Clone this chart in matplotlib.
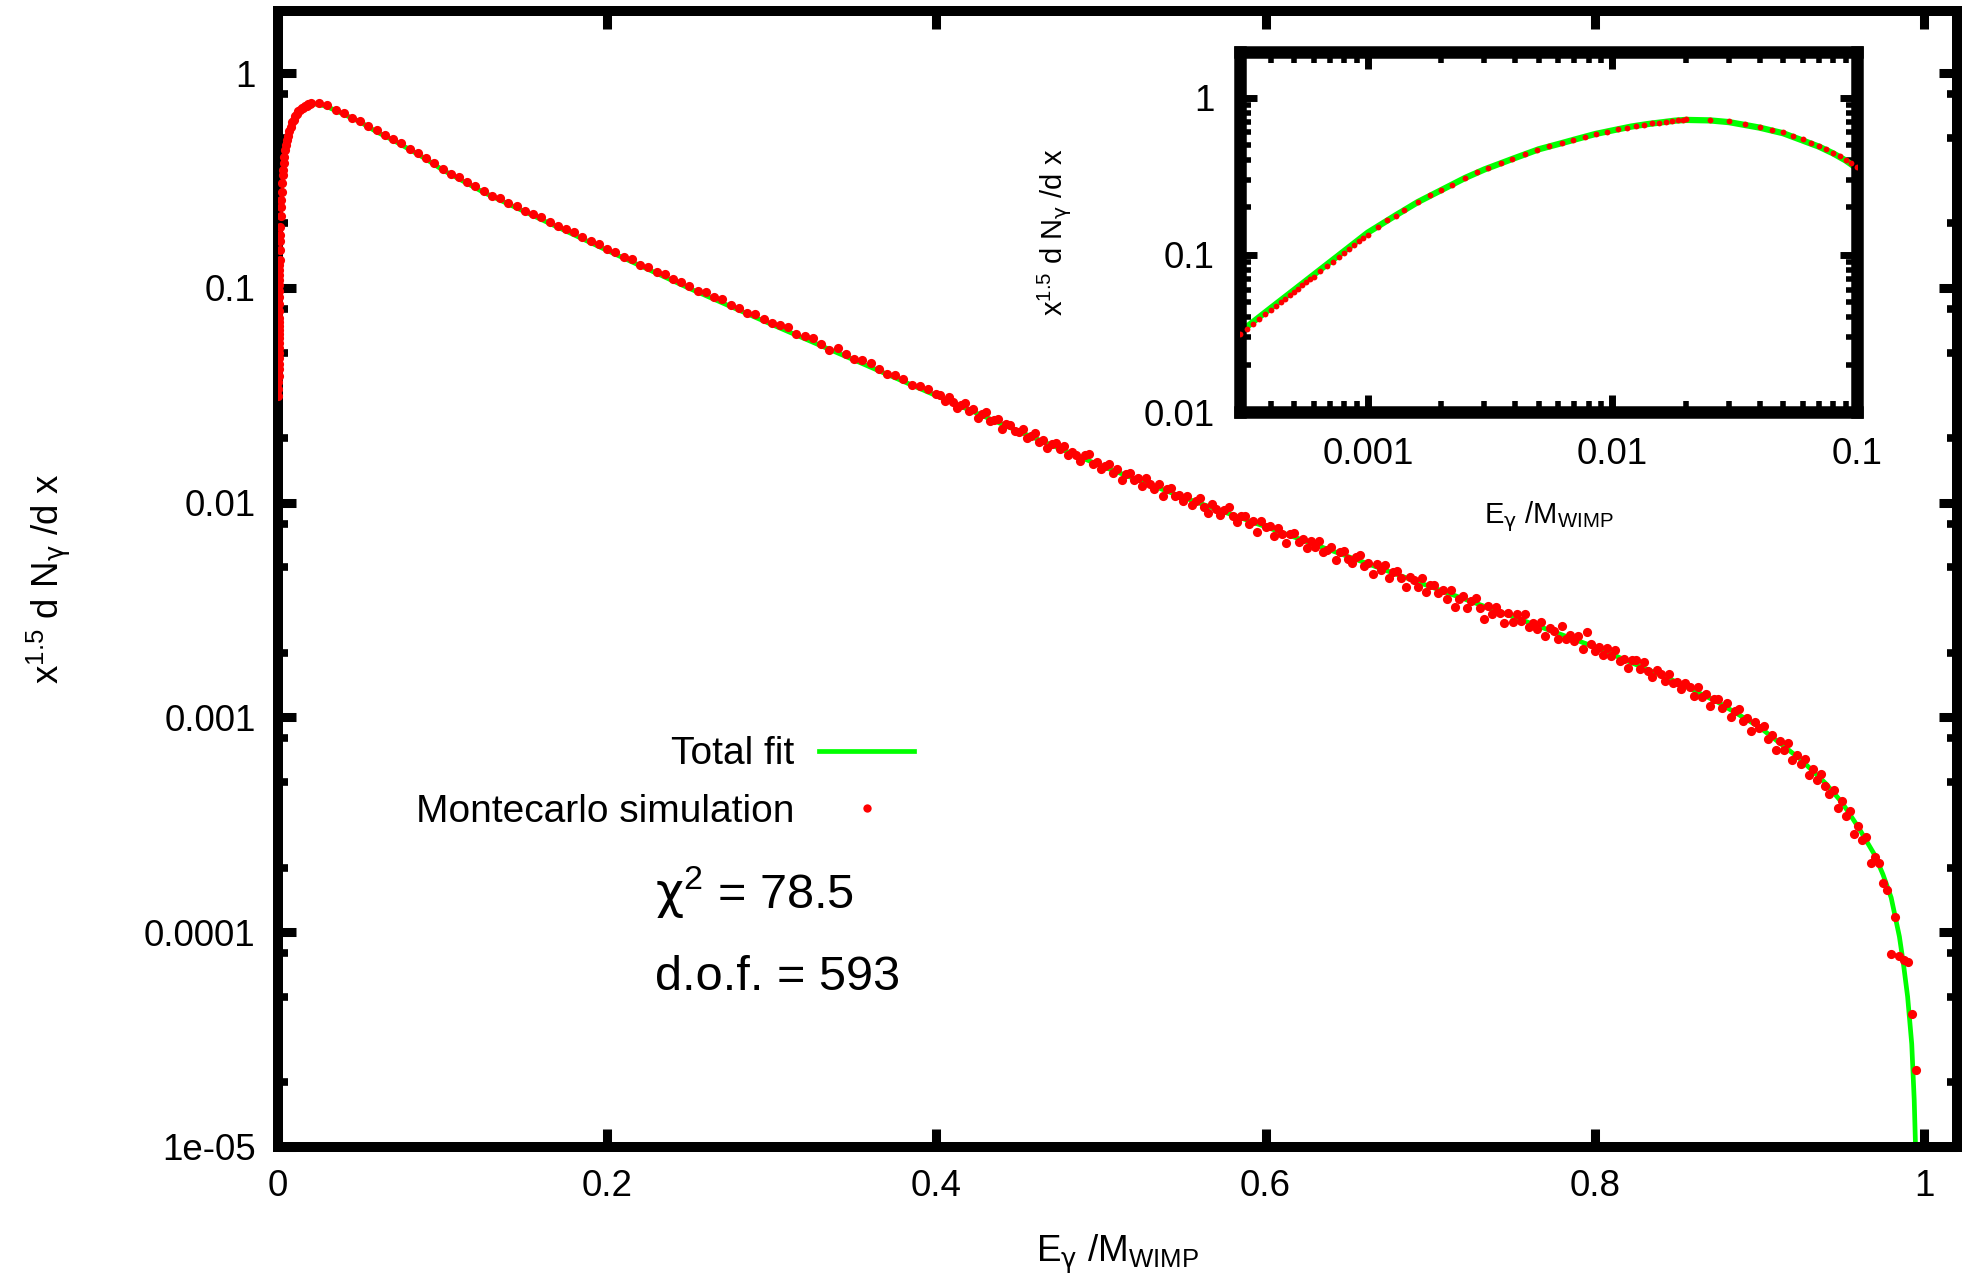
import matplotlib
matplotlib.use('Agg')
import matplotlib.pyplot as plt
from matplotlib.ticker import LogLocator, NullFormatter, NullLocator
from matplotlib.lines import Line2D

plt.rcParams['font.family'] = ['Liberation Sans', 'DejaVu Sans']
plt.rcParams['mathtext.fontset'] = 'custom'
plt.rcParams['mathtext.rm'] = 'Liberation Sans'
plt.rcParams['mathtext.it'] = 'Liberation Sans:italic'
plt.rcParams['mathtext.bf'] = 'Liberation Sans:bold'
plt.rcParams['mathtext.sf'] = 'DejaVu Sans'

# total fit curve
fit_x = [0.0003, 0.0004, 0.0005, 0.0006, 0.0008, 0.001, 0.0013, 0.0016, 0.002, 0.0025,
         0.003, 0.004, 0.005, 0.006, 0.007, 0.0085, 0.01, 0.012, 0.014, 0.016,
         0.018, 0.02, 0.025, 0.03, 0.04, 0.05, 0.06, 0.07, 0.08, 0.09,
         0.10, 0.125, 0.15, 0.175, 0.20, 0.25, 0.30, 0.35, 0.40, 0.45,
         0.50, 0.55, 0.60, 0.65, 0.70, 0.75, 0.80, 0.85, 0.875, 0.90,
         0.925, 0.94, 0.95, 0.96, 0.97, 0.975, 0.98, 0.985, 0.9875, 0.99,
         0.9925, 0.994, 0.995]
fit_y = [0.0322, 0.0457, 0.0598, 0.0746, 0.1056, 0.1384, 0.1782, 0.2163, 0.2582, 0.3083,
         0.3491, 0.4130, 0.4688, 0.5058, 0.5402, 0.5861, 0.6180, 0.6546, 0.6790, 0.6966,
         0.7129, 0.7211, 0.7161, 0.6982, 0.6442, 0.5929, 0.5333, 0.4875, 0.4416, 0.3981,
         0.3548, 0.2786, 0.2265, 0.1841, 0.1496, 0.0995, 0.0676, 0.0462, 0.0315, 0.0215,
         0.01486, 0.01059, 0.00773, 0.00562, 0.00407, 0.00295, 0.00213, 0.00146, 0.001175, 0.000902,
         0.000638, 0.000495, 0.000403, 0.000309, 0.000229, 0.000186, 0.000145, 9.55e-5, 7.08e-5, 5.01e-5,
         3.02e-5, 1.66e-5, 8.9e-6]

# Montecarlo simulation points
mc_x_low = [0.0003, 0.00032, 0.00034, 0.00036, 0.00038, 0.0004, 0.00042, 0.00044, 0.00046, 0.00048,
            0.0005, 0.00052, 0.00054, 0.00056, 0.00058, 0.0006, 0.00064, 0.00068, 0.00072, 0.00076,
            0.0008, 0.00084, 0.00088, 0.00092, 0.00096, 0.001,
            0.0011, 0.0012, 0.0013, 0.0014, 0.0016, 0.0018, 0.002, 0.0022, 0.0025, 0.0028,
            0.0031, 0.0035, 0.0039, 0.0044, 0.0049, 0.0055, 0.0062, 0.0069, 0.0077, 0.0086,
            0.0095, 0.0105, 0.0115, 0.0125, 0.0135, 0.0145, 0.0155, 0.0165, 0.0175, 0.0185, 0.0195]
mc_y_low = [0.0313, 0.0339, 0.0365, 0.0391, 0.0418, 0.0445, 0.0471, 0.0499, 0.0526, 0.0553,
            0.0582, 0.0610, 0.0638, 0.0667, 0.0697, 0.0726, 0.0783, 0.0843, 0.0904, 0.0966,
            0.1028, 0.1089, 0.1153, 0.1216, 0.1282, 0.1346,
            0.1510, 0.1656, 0.1774, 0.1923, 0.2153, 0.2388, 0.2570, 0.2799, 0.3076, 0.3373,
            0.3540, 0.3837, 0.4064, 0.4385, 0.4624, 0.4887, 0.5117, 0.5383, 0.5610, 0.5902,
            0.6067, 0.6295, 0.6442, 0.6637, 0.6730, 0.6855, 0.6902, 0.7031, 0.7063, 0.7178, 0.7194]

mc_x_mid = [0.020, 0.025, 0.030, 0.035, 0.040, 0.045, 0.050, 0.055, 0.060, 0.065,
            0.070, 0.075, 0.080, 0.085, 0.090, 0.095, 0.100, 0.105, 0.110, 0.115,
            0.120, 0.125, 0.130, 0.135, 0.140, 0.145, 0.150, 0.155, 0.160, 0.165,
            0.170, 0.175, 0.180, 0.185, 0.190, 0.195, 0.200, 0.205, 0.210, 0.215,
            0.220, 0.225, 0.230, 0.235, 0.240, 0.245, 0.250, 0.255, 0.260, 0.265,
            0.270, 0.275, 0.280, 0.285, 0.290, 0.295, 0.300, 0.305, 0.310, 0.315,
            0.320, 0.325, 0.330, 0.335, 0.340, 0.345, 0.350, 0.355, 0.360, 0.365,
            0.370, 0.375, 0.380, 0.385, 0.390, 0.395, 0.400]
mc_y_mid = [0.730, 0.723, 0.708, 0.676, 0.652, 0.621, 0.601, 0.568, 0.542, 0.514,
            0.494, 0.473, 0.446, 0.427, 0.403, 0.384, 0.360, 0.341, 0.328, 0.310,
            0.299, 0.282, 0.269, 0.262, 0.250, 0.242, 0.229, 0.221, 0.214, 0.203,
            0.194, 0.188, 0.182, 0.172, 0.166, 0.161, 0.152, 0.147, 0.140, 0.136,
            0.128, 0.125, 0.119, 0.116, 0.110, 0.107, 0.102, 0.0966, 0.0953, 0.0904,
            0.0887, 0.0830, 0.0809, 0.0764, 0.0757, 0.0719, 0.0687, 0.0673, 0.0656, 0.0611,
            0.0596, 0.0582, 0.0548, 0.0514, 0.0525, 0.0494, 0.0469, 0.0460, 0.0447, 0.0420,
            0.0399, 0.0394, 0.0375, 0.0354, 0.0350, 0.0340, 0.0320]

mc_x_high = [0.4025, 0.405, 0.4075, 0.41, 0.4125, 0.415, 0.4175, 0.42, 0.4225, 0.425,
             0.4275, 0.43, 0.4325, 0.435, 0.4375, 0.44, 0.4425, 0.445, 0.4475, 0.45,
             0.4525, 0.455, 0.4575, 0.46, 0.4625, 0.465, 0.4675, 0.47, 0.4725, 0.475,
             0.4775, 0.48, 0.4825, 0.485, 0.4875, 0.49, 0.4925, 0.495, 0.4975, 0.50,
             0.5025, 0.505, 0.5075, 0.51, 0.5125, 0.515, 0.5175, 0.52, 0.5225, 0.525,
             0.5275, 0.53, 0.5325, 0.535, 0.5375, 0.54, 0.5425, 0.545, 0.5475, 0.55,
             0.5525, 0.555, 0.5575, 0.56, 0.5625, 0.565, 0.5675, 0.57, 0.5725, 0.575,
             0.5775, 0.58, 0.5825, 0.585, 0.5875, 0.59, 0.5925, 0.595, 0.5975, 0.60,
             0.6025, 0.605, 0.6075, 0.61, 0.6125, 0.615, 0.6175, 0.62, 0.6225, 0.625,
             0.6275, 0.63, 0.6325, 0.635, 0.6375, 0.64, 0.6425, 0.645, 0.6475, 0.65,
             0.6525, 0.655, 0.6575, 0.66, 0.6625, 0.665, 0.6675, 0.67, 0.6725, 0.675,
             0.6775, 0.68, 0.6825, 0.685, 0.6875, 0.69, 0.6925, 0.695, 0.6975, 0.70,
             0.7025, 0.705, 0.7075, 0.71, 0.7125, 0.715, 0.7175, 0.72, 0.7225, 0.725,
             0.7275, 0.73, 0.7325, 0.735, 0.7375, 0.74, 0.7425, 0.745, 0.7475, 0.75,
             0.7525, 0.755, 0.7575, 0.76, 0.7625, 0.765, 0.7675, 0.77, 0.7725, 0.775,
             0.7775, 0.78, 0.7825, 0.785, 0.7875, 0.79, 0.7925, 0.795, 0.7975, 0.80,
             0.8025, 0.805, 0.8075, 0.81, 0.8125, 0.815, 0.8175, 0.82, 0.8225, 0.825,
             0.8275, 0.83, 0.8325, 0.835, 0.8375, 0.84, 0.8425, 0.845, 0.8475, 0.85,
             0.8525, 0.855, 0.8575, 0.86, 0.8625, 0.865, 0.8675, 0.87, 0.8725, 0.875,
             0.8775, 0.88, 0.8825, 0.885, 0.8875, 0.89, 0.8925, 0.895, 0.8975, 0.90,
             0.9025, 0.905, 0.9075, 0.91, 0.9125, 0.915, 0.9175, 0.92, 0.9225, 0.925,
             0.9275, 0.93, 0.9325, 0.935, 0.9375, 0.94,
             0.9425, 0.945, 0.9475, 0.95,
             0.9525, 0.955, 0.9575, 0.96,
             0.9625, 0.965, 0.9675, 0.97,
             0.9725, 0.975, 0.9775, 0.98, 0.9825, 0.985, 0.9875, 0.99, 0.9925, 0.995]
mc_y_high = [0.0318, 0.0297, 0.0311, 0.0295, 0.0276, 0.0286, 0.0292, 0.0268, 0.0274, 0.0249,
             0.0259, 0.0264, 0.0240, 0.0243, 0.0246, 0.0221, 0.0232, 0.0230, 0.0216, 0.0213,
             0.0220, 0.0201, 0.0205, 0.0212, 0.0192, 0.0197, 0.0179, 0.0188, 0.0189, 0.0177,
             0.0184, 0.0167, 0.0173, 0.0167, 0.0156, 0.0166, 0.0168, 0.0152, 0.0155, 0.0143,
             0.0149, 0.0151, 0.0138, 0.0144, 0.0128, 0.0136, 0.0138, 0.0128, 0.0131, 0.0120,
             0.0131, 0.0122, 0.0116, 0.0122, 0.0108, 0.0116, 0.0117, 0.0108, 0.0109, 0.0102,
             0.01074, 0.00975, 0.01023, 0.01052, 0.00957, 0.00893, 0.00982, 0.00938, 0.00881, 0.00927,
             0.00951, 0.00863, 0.00815, 0.00867, 0.00869, 0.00796, 0.00820, 0.00731, 0.00822, 0.00767,
             0.00778, 0.00701, 0.00764, 0.00714, 0.00647, 0.00716, 0.00726, 0.00658, 0.00675, 0.00614,
             0.00667, 0.00625, 0.00665, 0.00590, 0.00603, 0.00619, 0.00543, 0.00590, 0.00597, 0.00547,
             0.00522, 0.00556, 0.00574, 0.00508, 0.00524, 0.00466, 0.00518, 0.00485, 0.00512, 0.00448,
             0.00478, 0.00482, 0.00444, 0.00405, 0.00453, 0.00437, 0.00407, 0.00447, 0.00383, 0.00415,
             0.00415, 0.00378, 0.00393, 0.00356, 0.00394, 0.00328, 0.00356, 0.00368, 0.00323, 0.00349,
             0.00361, 0.00324, 0.00289, 0.00331, 0.00304, 0.00327, 0.00305, 0.00275, 0.00307, 0.00278,
             0.00303, 0.00280, 0.00303, 0.00264, 0.00275, 0.00259, 0.00279, 0.00239, 0.00262, 0.00252,
             0.00231, 0.00266, 0.00233, 0.00243, 0.00228, 0.00239, 0.00208, 0.00249, 0.00220, 0.00205,
             0.00214, 0.00195, 0.00210, 0.00194, 0.00206, 0.00184, 0.00188, 0.00170, 0.00185, 0.00185,
             0.00169, 0.00182, 0.00165, 0.00155, 0.00166, 0.00160, 0.00148, 0.00160, 0.00145, 0.00147,
             0.00136, 0.00145, 0.00138, 0.00126, 0.00138, 0.00125, 0.00129, 0.00113, 0.00122, 0.00122,
             0.00111, 0.00117, 0.00101, 0.00107, 0.00109, 0.000962, 0.000998, 0.000867, 0.000957, 0.000891,
             0.000916, 0.000794, 0.000828, 0.000708, 0.000780, 0.000708, 0.000759, 0.000635, 0.000668, 0.000610,
             0.000638, 0.000537, 0.000575, 0.000513, 0.000547, 0.000482,
             0.000439, 0.000459, 0.000378, 0.000410,
             0.000348, 0.000365, 0.000288, 0.000313,
             0.000270, 0.000279, 0.000210, 0.000224,
             0.000209, 0.000170, 0.000158, 7.94e-5, 0.0001175, 7.76e-5, 7.41e-5, 7.24e-5, 4.17e-5, 2.29e-5]

mc_x = mc_x_low + mc_x_mid + mc_x_high
mc_y = mc_y_low + mc_y_mid + mc_y_high

main_xticks = [0, 0.2, 0.4, 0.6, 0.8, 1]
main_xlabels = ['0', '0.2', '0.4', '0.6', '0.8', '1']
main_yticks = [1e-5, 1e-4, 1e-3, 1e-2, 1e-1, 1]
main_ylabels = ['1e-05', '0.0001', '0.001', '0.01', '0.1', '1']
inset_xticks = [0.001, 0.01, 0.1]
inset_xlabels = ['0.001', '0.01', '0.1']
inset_yticks = [0.01, 0.1, 1]
inset_ylabels = ['0.01', '0.1', '1']

green = '#00ff00'
red = '#ff0000'

xlab = r'E$_{\mathsf{\gamma}}$ /M$_{\mathrm{WIMP}}$'
ylab = r'x$^{\mathrm{1.5}}$ d N$_{\mathsf{\gamma}}$ /d x'

fig = plt.figure(figsize=(19.71, 12.74), dpi=100)

# main panel
ax = fig.add_axes([0.1410, 0.0997, 0.8519, 0.8917])
ax.plot(fit_x, fit_y, color=green, lw=3.4, zorder=2)
ax.plot(mc_x, mc_y, ls='none', marker='o', ms=6.6, mew=0, color=red, zorder=3)
ax.set_yscale('log')
ax.set_xlim(0, 1.02)
ax.set_ylim(1e-5, 1.95)
ax.set_xticks(main_xticks, main_xlabels)
ax.set_yticks(main_yticks, main_ylabels)
ax.xaxis.set_minor_locator(NullLocator())
ax.yaxis.set_minor_locator(LogLocator(base=10, subs=(2, 5, 8), numticks=30))
ax.yaxis.set_minor_formatter(NullFormatter())
ax.tick_params(which='both', direction='in', top=True, right=True)
ax.tick_params(which='major', length=13, width=6.5, pad=16, labelsize=26.5)
ax.tick_params(which='minor', length=7, width=5.5)
for sp in ax.spines.values():
    sp.set_linewidth(7.2)
ax.set_xlabel(xlab, fontsize=26.5)
ax.set_ylabel(ylab, fontsize=26.5)
ax.xaxis.set_label_coords(0.5, -0.0755)
ax.yaxis.set_label_coords(-0.122, 0.5)

handles = [Line2D([], [], color=green, lw=3.4),
           Line2D([], [], ls='none', marker='o', ms=6.0, mew=0, color=red)]
ax.legend(handles, ['Total fit', 'Montecarlo simulation'], loc='center right',
          bbox_to_anchor=(0.3788, 0.3204), frameon=False, markerfirst=False,
          fontsize=28, handlelength=2.44, handletextpad=0.64, labelspacing=0.55,
          borderpad=0, borderaxespad=0, numpoints=1)

ax.text(0.2245, 0.2245, r'$\mathsf{\chi}^{2}$ = 78.5', transform=ax.transAxes,
        fontsize=35, ha='left', va='center')
ax.text(0.2245, 0.149, 'd.o.f. = 593', transform=ax.transAxes,
        fontsize=35, ha='left', va='center')

# inset panel
ins = fig.add_axes([0.6291, 0.6766, 0.3130, 0.2826])
ins.plot(fit_x, fit_y, color=green, lw=4.5, zorder=2)
ins.plot(mc_x, mc_y, ls='none', marker='o', ms=4.2, mew=0, color=red, zorder=3)
ins.set_xscale('log')
ins.set_yscale('log')
ins.set_xlim(3e-4, 0.1)
ins.set_ylim(0.01, 1.95)
ins.set_xticks(inset_xticks, inset_xlabels)
ins.set_yticks(inset_yticks, inset_ylabels)
ins.xaxis.set_minor_locator(LogLocator(base=10, subs=range(2, 10), numticks=30))
ins.yaxis.set_minor_locator(LogLocator(base=10, subs=range(2, 10), numticks=30))
ins.xaxis.set_minor_formatter(NullFormatter())
ins.yaxis.set_minor_formatter(NullFormatter())
ins.tick_params(which='both', direction='in', top=True, right=True)
ins.tick_params(which='major', length=12, width=5, pad=18, labelsize=26.5)
ins.tick_params(which='minor', length=8, width=4)
for sp in ins.spines.values():
    sp.set_linewidth(9)
ins.set_xlabel(xlab, fontsize=21)
ins.set_ylabel(ylab, fontsize=21)
ins.xaxis.set_label_coords(0.5, -0.244)
ins.yaxis.set_label_coords(-0.271, 0.5)

fig.savefig('out.png', dpi=100)
